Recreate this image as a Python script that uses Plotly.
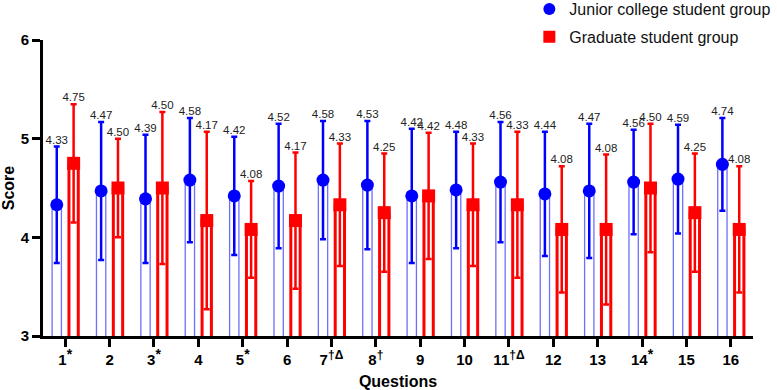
import plotly.graph_objects as go

categories = ["1<sup><span style='font-size:14px'>*</span></sup>", "2",
              "3<sup><span style='font-size:14px'>*</span></sup>", "4",
              "5<sup><span style='font-size:14px'>*</span></sup>", "6",
              "7<sup><span style='font-size:12px'>†Δ</span></sup>", "8<sup><span style='font-size:12px'>†</span></sup>",
              "9", "10", "11<sup><span style='font-size:12px'>†Δ</span></sup>", "12", "13",
              "14<sup><span style='font-size:14px'>*</span></sup>", "15", "16"]
junior_mean = [4.33, 4.47, 4.39, 4.58, 4.42, 4.52, 4.58, 4.53, 4.42, 4.48, 4.56, 4.44, 4.47, 4.56, 4.59, 4.74]
junior_sd = [0.59, 0.70, 0.65, 0.63, 0.60, 0.63, 0.60, 0.65, 0.68, 0.59, 0.61, 0.63, 0.68, 0.53, 0.55, 0.47]
grad_mean = [4.75, 4.50, 4.50, 4.17, 4.08, 4.17, 4.33, 4.25, 4.42, 4.33, 4.33, 4.08, 4.08, 4.50, 4.25, 4.08]
grad_sd = [0.60, 0.50, 0.77, 0.90, 0.49, 0.69, 0.62, 0.60, 0.64, 0.62, 0.74, 0.64, 0.76, 0.65, 0.60, 0.64]
y_ticks = [3, 4, 5, 6]

FONT = "Liberation Sans, Arial, sans-serif"
BLUE = "#0000ff"
RED = "#ff0000"
OFF = 0.19
BW = 0.21

idx = list(range(len(categories)))
xb = [i - OFF for i in idx]
xr = [i + OFF for i in idx]

fig = go.Figure()

fig.add_trace(go.Bar(
    x=xb, y=junior_mean, width=BW, showlegend=False,
    marker=dict(color="rgba(0,0,0,0)", line=dict(color="#6f6fff", width=1.3)),
    error_y=dict(type="data", array=junior_sd, visible=True, color=BLUE, thickness=2.5, width=3),
    hoverinfo="skip",
))
fig.add_trace(go.Bar(
    x=xr, y=grad_mean, width=BW, showlegend=False,
    marker=dict(color="rgba(0,0,0,0)", line=dict(color=RED, width=3)),
    error_y=dict(type="data", array=grad_sd, visible=True, color=RED, thickness=2.5, width=3),
    hoverinfo="skip",
))
fig.add_trace(go.Scatter(
    x=xb, y=junior_mean, mode="markers", name="Junior college student group", legendgroup="a",
    marker=dict(symbol="circle", size=13, color=BLUE),
))
fig.add_trace(go.Scatter(
    x=xr, y=grad_mean, mode="markers", name="Graduate student group", legendgroup="b",
    marker=dict(symbol="square", size=13, color=RED),
))
fig.add_trace(go.Scatter(
    x=xb, y=[m + s for m, s in zip(junior_mean, junior_sd)], mode="text",
    text=[f"{v:.2f}" for v in junior_mean], textposition="top center",
    textfont=dict(size=11.5, color="#222222", family=FONT), showlegend=False, cliponaxis=False,
))
fig.add_trace(go.Scatter(
    x=xr, y=[m + s for m, s in zip(grad_mean, grad_sd)], mode="text",
    text=[f"{v:.2f}" for v in grad_mean], textposition="top center",
    textfont=dict(size=11.5, color="#222222", family=FONT), showlegend=False, cliponaxis=False,
))

fig.update_layout(
    width=777, height=390,
    margin=dict(l=43, r=24, t=40, b=54, autoexpand=False),
    plot_bgcolor="white", paper_bgcolor="white",
    font=dict(family=FONT, color="#000000"),
    barmode="overlay",
    legend=dict(x=0.685, xanchor="left", y=1.162, yanchor="top",
                font=dict(size=16, color="#111111"), bgcolor="rgba(0,0,0,0)",
                tracegroupgap=4, itemsizing="constant"),
    showlegend=True,
)
fig.update_xaxes(
    range=[-0.5, len(categories) - 0.5],
    tickmode="array", tickvals=idx, ticktext=[f"<b>{c}</b>" for c in categories],
    tickfont=dict(size=15, color="#000000"),
    showline=True, linecolor="#000000", linewidth=3,
    ticks="outside", ticklen=8, tickwidth=3, tickcolor="#000000",
    showgrid=False, zeroline=False, automargin=False,
    title=dict(text="<b>Questions</b>", font=dict(size=16), standoff=11),
)
fig.update_yaxes(
    range=[3, 6],
    tickmode="array", tickvals=y_ticks, ticktext=[f"<b>{t}</b>" for t in y_ticks],
    tickfont=dict(size=15, color="#000000"),
    showline=True, linecolor="#000000", linewidth=3,
    ticks="outside", ticklen=8, tickwidth=3, tickcolor="#000000",
    showgrid=False, zeroline=False, automargin=False,
    title=dict(text="<b>Score</b>", font=dict(size=16), standoff=6),
)

fig.write_html("out.html", config={"displayModeBar": False},
               post_script="document.body.style.margin='0px';")
